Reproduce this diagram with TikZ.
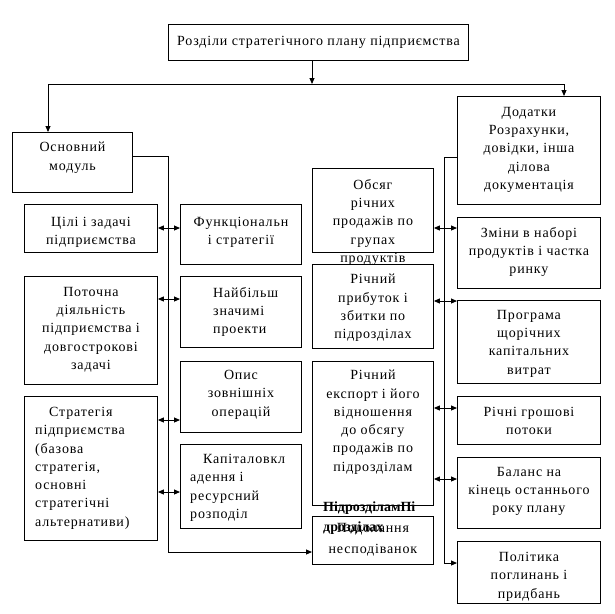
\documentclass[tikz,border=0pt]{standalone}
\usepackage{fontspec}
\setmainfont{Liberation Serif}[LetterSpace=6]
\newfontfamily\zhyrnyi{Liberation Serif}
\usetikzlibrary{positioning,arrows.meta}

\begin{document}
\begin{tikzpicture}[x=1pt,y=-1pt,
  blok/.style={draw, line width=0.9pt, anchor=north west, inner sep=0pt},
  napys/.style={align=center, inner sep=0pt, font=\fontsize{14}{18.3}\selectfont},
  strilka/.style={line width=0.9pt, -{Triangle[length=6pt,width=5pt]}}]
\useasboundingbox (0,0) rectangle (614,614);

% golovnyi blok
\node[blok, minimum width=300pt, minimum height=36pt] (roz) at (168,24) {};
\node[napys, right=9pt of roz.west] (roz-t) {Розділи стратегічного плану підприємства};

% osnovnyi modul
\node[blok, minimum width=120pt, minimum height=60pt] (osn) at (12,132) {};
\node[napys, below=10pt of osn.north] (osn-t) {Основний\\модуль};

\node[blok, minimum width=133pt, minimum height=48pt] (celi) at (24,204) {};
\node[napys, below=13pt of celi.north] (celi-t) {Цілі і задачі\\підприємства};
\node[blok, minimum width=133pt, minimum height=108pt] (pot) at (24,276) {};
\node[napys, below=11pt of pot.north] (pot-t) {Поточна\\діяльність\\підприємства і\\довгострокові\\задачі};
\node[blok, minimum width=133pt, minimum height=144pt] (strat) at (24,396) {};
\node[napys, align=left, below right=11pt and 11pt of strat.north west] (strat-t)
  {\hspace*{14pt}Стратегія\\підприємства\\(базова\\стратегія,\\основні\\стратегічні\\альтернативи)};

\node[blok, minimum width=121pt, minimum height=60pt] (func) at (180,204) {};
\node[napys, below=13pt of func.north] (func-t) {Функціональн\\і стратегії};
\node[blok, minimum width=121pt, minimum height=71pt] (najb) at (180,276) {};
\node[napys, align=left, below right=11pt and 33pt of najb.north west] (najb-t) {Найбільш\\значимі\\проекти};
\node[blok, minimum width=121pt, minimum height=71pt] (opys) at (180,361) {};
\node[napys, below=9pt of opys.north] (opys-t) {Опис\\зовнішніх\\операцій};
\node[blok, minimum width=121pt, minimum height=84pt] (kap) at (180,444) {};
\node[napys, align=left, below right=10pt and 10pt of kap.north west] (kap-t)
  {\hspace*{13pt}Капіталовкл\\адення і\\ресурсний\\розподіл};

\node[blok, minimum width=121pt, minimum height=84pt] (obs) at (312,168) {};
\node[napys, below=11pt of obs.north] (obs-t) {Обсяг\\річних\\продажів по\\групах\\продуктів};
\node[blok, minimum width=121pt, minimum height=84pt] (prib) at (312,264) {};
\node[napys, below=10pt of prib.north] (prib-t) {Річний\\прибуток і\\збитки по\\підрозділах};
\node[blok, minimum width=121pt, minimum height=144pt] (eksp) at (312,361) {};
\node[napys, below=9pt of eksp.north] (eksp-t) {Річний\\експорт і його\\відношення\\до обсягу\\продажів по\\підрозділам};
\node[blok, minimum width=121pt, minimum height=48pt] (pod) at (312,516) {};
\node[napys, font=\fontsize{14}{21}\selectfont, below=7pt of pod.north] (pod-t) {Подолання\\несподіванок};
\node[anchor=north west, inner sep=0pt, align=left, font=\fontsize{14}{20}\zhyrnyi\bfseries] (pidr) at (323,502)
  {ПідрозділамПі\\дрозділах};

% dodatky
\node[blok, minimum width=143pt, minimum height=108pt] (dod) at (457,96) {};
\node[napys, below=11pt of dod.north] (dod-t) {Додатки\\Розрахунки,\\довідки, інша\\ділова\\документація};
\node[blok, minimum width=143pt, minimum height=71pt] (zmin) at (457,217) {};
\node[napys, below=10pt of zmin.north] (zmin-t) {Зміни в наборі\\продуктів і частка\\ринку};
\node[blok, minimum width=143pt, minimum height=83pt] (prog) at (457,300) {};
\node[napys, below=10pt of prog.north] (prog-t) {Програма\\щорічних\\капітальних\\витрат};
\node[blok, minimum width=143pt, minimum height=48pt] (hrosh) at (457,396) {};
\node[napys, below=11pt of hrosh.north] (hrosh-t) {Річні грошові\\потоки};
\node[blok, minimum width=143pt, minimum height=71pt] (bal) at (457,457) {};
\node[napys, below=10pt of bal.north] (bal-t) {Баланс на\\кінець останнього\\року плану};
\node[blok, minimum width=143pt, minimum height=62pt] (pol) at (457,541) {};
\node[napys, below=11pt of pol.north] (pol-t) {Політика\\поглинань і\\придбань};

% shyna zverhu
\coordinate (shyna) at (312,84);
\coordinate (shL) at (48,84);
\coordinate (shR) at (564,84);
\draw[strilka] (shyna |- roz.south) -- (shyna);
\draw[strilka] (shyna) -- (shL) -- (shL |- osn.north);
\draw[strilka] (shyna) -- (shR) -- (shR |- dod.north);

% liva vertykal
\coordinate (stL) at (168,156);
\coordinate (stLn) at (168,552);
\draw[strilka] (osn.east |- stL) -- (stL) -- (stLn) -- (stLn -| pod.west);
\foreach \yy/\livyi/\pravyi in {228/celi/func, 299/pot/najb, 420/strat/opys, 492/strat/kap} {
  \coordinate (t) at (168,\yy);
  \draw[strilka] (t) -- (t -| \livyi.east);
  \draw[strilka] (t) -- (t -| \pravyi.west);
}

% prava vertykal
\coordinate (stR) at (444,157);
\coordinate (stRn) at (444,563);
\draw[strilka] (dod.west |- stR) -- (stR) -- (stRn) -- (stRn -| pol.west);
\foreach \yy/\livyi/\pravyi in {228/obs/zmin, 301/prib/prog, 408/eksp/hrosh, 479/eksp/bal} {
  \coordinate (t) at (444,\yy);
  \draw[strilka] (t) -- (t -| \livyi.east);
  \draw[strilka] (t) -- (t -| \pravyi.west);
}
\end{tikzpicture}
\end{document}
